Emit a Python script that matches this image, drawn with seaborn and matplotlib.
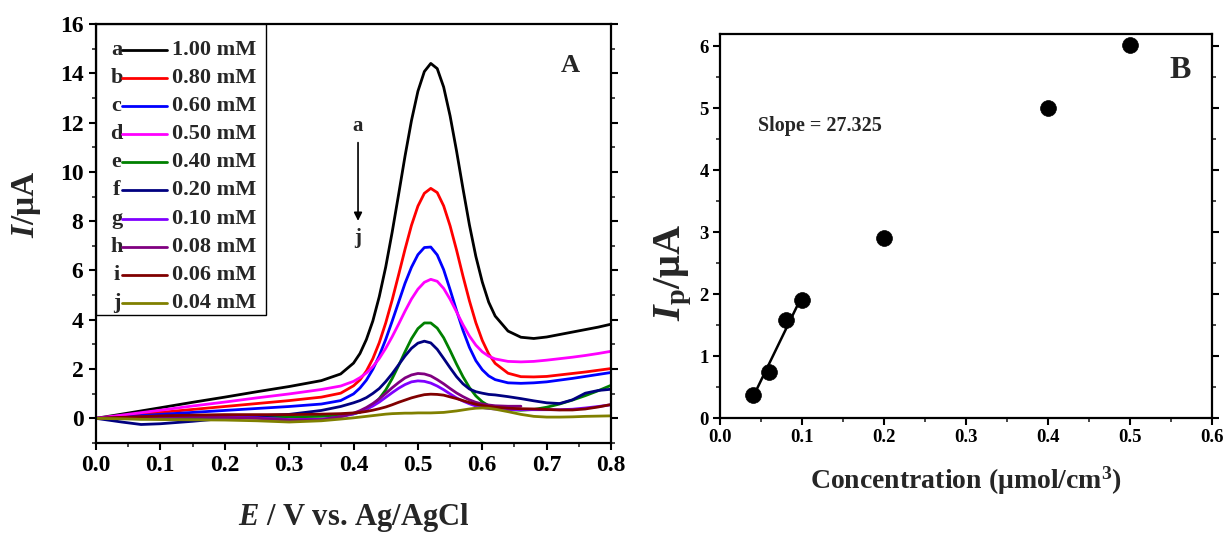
import numpy as np
import pandas as pd
import matplotlib
matplotlib.use("Agg")
import matplotlib.pyplot as plt
import seaborn as sns
from matplotlib.ticker import MultipleLocator
from matplotlib.patches import Rectangle

# ---------------- Panel A data (DPV curves) ----------------
E = [0.00, 0.04, 0.07, 0.10, 0.15, 0.20, 0.25, 0.30, 0.35, 0.38, 0.40, 0.41,
     0.42, 0.43, 0.44, 0.45, 0.46, 0.47, 0.48, 0.49, 0.50, 0.51, 0.52, 0.53,
     0.54, 0.55, 0.56, 0.57, 0.58, 0.59, 0.60, 0.61, 0.62, 0.64, 0.66, 0.68,
     0.70, 0.72, 0.74, 0.76, 0.78, 0.80]

curve_a = [0, 0.17, 0.30, 0.43, 0.65, 0.86, 1.08, 1.29, 1.53, 1.80, 2.24, 2.63,
           3.20, 3.95, 4.94, 6.14, 7.55, 9.08, 10.64, 12.08, 13.27, 14.07, 14.40, 14.19,
           13.44, 12.27, 10.85, 9.32, 7.85, 6.57, 5.53, 4.71, 4.15, 3.54, 3.29, 3.24,
           3.30, 3.40, 3.50, 3.60, 3.70, 3.82]
curve_b = [0, 0.10, 0.17, 0.24, 0.36, 0.48, 0.60, 0.72, 0.86, 1.02, 1.32, 1.56,
           1.92, 2.42, 3.07, 3.87, 4.80, 5.82, 6.86, 7.83, 8.61, 9.13, 9.33, 9.16,
           8.62, 7.81, 6.83, 5.77, 4.77, 3.88, 3.16, 2.61, 2.23, 1.83, 1.69, 1.68,
           1.70, 1.76, 1.82, 1.88, 1.95, 2.02]
curve_c = [0, 0.06, 0.11, 0.16, 0.24, 0.32, 0.40, 0.48, 0.58, 0.72, 0.99, 1.23,
           1.55, 1.99, 2.54, 3.20, 3.94, 4.71, 5.48, 6.13, 6.64, 6.93, 6.95, 6.63,
           6.03, 5.22, 4.37, 3.57, 2.88, 2.34, 1.97, 1.72, 1.57, 1.44, 1.42, 1.44,
           1.48, 1.55, 1.62, 1.70, 1.78, 1.86]
curve_d = [0, 0.13, 0.23, 0.33, 0.50, 0.66, 0.83, 0.99, 1.17, 1.31, 1.50, 1.65,
           1.84, 2.10, 2.43, 2.84, 3.31, 3.82, 4.35, 4.84, 5.24, 5.52, 5.64, 5.56,
           5.27, 4.83, 4.32, 3.80, 3.34, 2.97, 2.70, 2.52, 2.41, 2.31, 2.29, 2.31,
           2.36, 2.42, 2.48, 2.55, 2.63, 2.72]
curve_e = [0, 0.0, -0.02, 0.0, 0.02, 0.04, 0.05, 0.06, 0.08, 0.11, 0.18, 0.25,
           0.36, 0.54, 0.80, 1.15, 1.61, 2.14, 2.70, 3.23, 3.64, 3.87, 3.87, 3.66,
           3.27, 2.75, 2.20, 1.69, 1.25, 0.91, 0.67, 0.51, 0.42, 0.35, 0.33, 0.36,
           0.45, 0.58, 0.74, 0.92, 1.12, 1.34]
curve_f = [0, -0.15, -0.25, -0.22, -0.12, 0.0, 0.10, 0.16, 0.32, 0.48, 0.63, 0.72,
           0.84, 1.01, 1.21, 1.49, 1.81, 2.17, 2.53, 2.84, 3.05, 3.13, 3.06, 2.80,
           2.43, 2.05, 1.69, 1.40, 1.19, 1.08, 1.02, 0.97, 0.95, 0.88, 0.80, 0.71,
           0.63, 0.60, 0.75, 1.02, 1.13, 1.18]
curve_g = [0, 0.02, 0.04, 0.05, 0.06, 0.05, 0.02, -0.05, -0.04, 0.06, 0.18, 0.26,
           0.37, 0.50, 0.66, 0.85, 1.04, 1.22, 1.37, 1.48, 1.52, 1.50, 1.43, 1.31,
           1.16, 0.99, 0.83, 0.70, 0.59, 0.50, 0.44, 0.40, 0.38, 0.36, 0.35, 0.35,
           0.35, 0.35, 0.37, 0.42, 0.48, 0.55]
curve_h = [0, 0.03, 0.05, 0.06, 0.06, 0.04, 0.0, -0.07, -0.06, 0.07, 0.21, 0.31,
           0.44, 0.60, 0.79, 1.01, 1.24, 1.45, 1.64, 1.76, 1.82, 1.80, 1.72, 1.57,
           1.40, 1.21, 1.03, 0.88, 0.75, 0.65, 0.58, 0.54, 0.51, 0.49, 0.49, np.nan,
           np.nan, np.nan, np.nan, np.nan, np.nan, np.nan]
curve_i = [0, 0.04, 0.07, 0.10, 0.13, 0.15, 0.15, 0.15, 0.17, 0.19, 0.22, 0.24,
           0.28, 0.33, 0.39, 0.46, 0.55, 0.65, 0.74, 0.83, 0.90, 0.96, 0.98, 0.97,
           0.94, 0.87, 0.80, 0.72, 0.64, 0.57, 0.52, 0.48, 0.45, 0.41, 0.39, 0.38,
           0.36, 0.34, 0.34, 0.38, 0.46, 0.56]
curve_j = [0, -0.02, -0.04, -0.05, -0.06, -0.07, -0.10, -0.15, -0.10, -0.03, 0.02, 0.05,
           0.08, 0.11, 0.14, 0.17, 0.19, 0.20, 0.21, 0.21, 0.22, 0.22, 0.22, 0.23,
           0.24, 0.27, 0.30, 0.34, 0.38, 0.41, 0.42, 0.41, 0.37, 0.27, 0.16, 0.08,
           0.05, 0.05, 0.06, 0.08, 0.09, 0.10]

letters = ["a", "b", "c", "d", "e", "f", "g", "h", "i", "j"]
conc_labels = ["1.00 mM", "0.80 mM", "0.60 mM", "0.50 mM", "0.40 mM",
               "0.20 mM", "0.10 mM", "0.08 mM", "0.06 mM", "0.04 mM"]
colors = ["#000000", "#FF0000", "#0000FF", "#FF00FF", "#008000",
          "#000080", "#8000FF", "#800080", "#800000", "#808000"]
curves = [curve_a, curve_b, curve_c, curve_d, curve_e,
          curve_f, curve_g, curve_h, curve_i, curve_j]

# ---------------- Panel B data ----------------
conc = [0.04, 0.06, 0.08, 0.10, 0.20, 0.40, 0.50]
ip = [0.37, 0.75, 1.58, 1.91, 2.91, 5.00, 6.02]
n_fit = 4
slope_text = "Slope = 27.325"

# ---------------- Style ----------------
sns.set_theme(style="white")
plt.rcParams['font.family'] = ['Liberation Serif', 'DejaVu Serif']
plt.rcParams['font.weight'] = 'bold'
plt.rcParams['mathtext.fontset'] = 'custom'
plt.rcParams['mathtext.rm'] = 'Liberation Serif:bold'
plt.rcParams['mathtext.it'] = 'Liberation Serif:italic:bold'
plt.rcParams['mathtext.bf'] = 'Liberation Serif:bold'
plt.rcParams['axes.edgecolor'] = 'black'

fig = plt.figure(figsize=(12.29, 5.33), dpi=100)
axA = fig.add_axes([0.0781, 0.1689, 0.4191, 0.7861])
axB = fig.add_axes([0.5858, 0.2152, 0.4001, 0.7210])

# ---------------- Panel A ----------------
rows = []
for lab, cv in zip(conc_labels, curves):
    for e, v in zip(E, cv):
        rows.append((lab, e, v))
df = pd.DataFrame(rows, columns=["series", "E", "I"])
sns.lineplot(data=df, x="E", y="I", hue="series", hue_order=conc_labels,
             palette=dict(zip(conc_labels, colors)), estimator=None, sort=False,
             linewidth=2.0, legend=False, ax=axA)

axA.set_xlim(0.0, 0.8)
axA.set_ylim(-1, 16)
axA.set_xticks(np.round(np.arange(0, 0.81, 0.1), 1))
axA.set_xticklabels([f"{v:.1f}" for v in np.arange(0, 0.81, 0.1)])
axA.xaxis.set_minor_locator(MultipleLocator(0.05))
axA.set_yticks(np.arange(0, 17, 2))
axA.set_yticklabels([str(v) for v in range(0, 17, 2)])
axA.yaxis.set_minor_locator(MultipleLocator(1))

for ax in (axA, axB):
    for sp in ax.spines.values():
        sp.set_linewidth(1.6)
        sp.set_color('black')
    ax.tick_params(which='major', direction='out', length=5, width=1.5,
                   bottom=True, left=True, top=False, right=False, colors='black')
    ax.tick_params(which='minor', direction='out', length=3, width=1.2,
                   bottom=True, left=True, top=False, right=False)
    ax.tick_params(axis='y', which='both', right=True)

axA.tick_params(axis='both', which='major', labelsize=17, pad=4)
for t in axA.get_xticklabels() + axA.get_yticklabels():
    t.set_fontweight('bold')

axA.set_xlabel("$\\mathit{E}$ / V vs. Ag/AgCl", fontsize=22, fontweight='bold', labelpad=18)
axA.set_ylabel("$\\mathit{I}$/μA", fontsize=24, fontweight='bold')
axA.yaxis.set_label_coords(-0.102, 0.57)

# legend box (letter, line, label)
axA.add_patch(Rectangle((0, 0.3055), 0.330, 0.6945, transform=axA.transAxes,
                        facecolor='white', edgecolor='black', lw=1.0, zorder=5))
for k, (let, lab, col) in enumerate(zip(letters, conc_labels, colors)):
    yy = (443 - (50 + 28.1 * k)) / 419
    axA.text(0.040, yy, let, transform=axA.transAxes, ha='center', va='center',
             fontsize=16, fontweight='bold', zorder=6)
    axA.plot([0.050, 0.137], [yy, yy], transform=axA.transAxes, color=col,
             lw=2.0, zorder=6)
    axA.text(0.147, yy, lab, transform=axA.transAxes, ha='left', va='center',
             fontsize=16, fontweight='bold', zorder=6)

axA.text(0.920, 0.902, "A", transform=axA.transAxes, ha='center', va='center',
         fontsize=19, fontweight='bold')
axA.annotate("", xy=(0.407, 7.9), xytext=(0.407, 11.3),
             arrowprops=dict(arrowstyle='-|>', color='black', lw=1.2, mutation_scale=12))
axA.text(0.407, 11.85, "a", ha='center', va='center', fontsize=15, fontweight='bold')
axA.text(0.407, 7.3, "j", ha='center', va='center', fontsize=15, fontweight='bold')

# ---------------- Panel B ----------------
sns.regplot(x=conc[:n_fit], y=ip[:n_fit], scatter=False, ci=None, truncate=True,
            color='black', line_kws=dict(lw=1.8), ax=axB)
sns.scatterplot(x=conc, y=ip, s=130, color='black', edgecolor='black',
                linewidth=0.5, ax=axB, zorder=4)

axB.set_xlim(0.0, 0.6)
axB.set_ylim(0, 6.2)
axB.set_xticks(np.round(np.arange(0, 0.61, 0.1), 1))
axB.set_xticklabels([f"{v:.1f}" for v in np.arange(0, 0.61, 0.1)])
axB.xaxis.set_minor_locator(MultipleLocator(0.05))
axB.set_yticks(range(0, 7))
axB.set_yticklabels([str(v) for v in range(0, 7)])
axB.yaxis.set_minor_locator(MultipleLocator(0.5))
axB.tick_params(axis='both', which='major', labelsize=13.5, pad=3)
for t in axB.get_xticklabels() + axB.get_yticklabels():
    t.set_fontweight('bold')

axB.set_xlabel("Concentration (μmol/cm$^{3}$)", fontsize=20, fontweight='bold', labelpad=13)
axB.set_ylabel("$\\mathit{I}_{\\mathrm{p}}$/μA", fontsize=29, fontweight='bold')
axB.yaxis.set_label_coords(-0.052, 0.38)
axB.text(0.046, 4.72, slope_text, fontsize=14.5, fontweight='bold', ha='left', va='center')
axB.text(0.935, 0.905, "B", transform=axB.transAxes, ha='center', va='center',
         fontsize=23, fontweight='bold')

fig.savefig("out.png", dpi=100)
